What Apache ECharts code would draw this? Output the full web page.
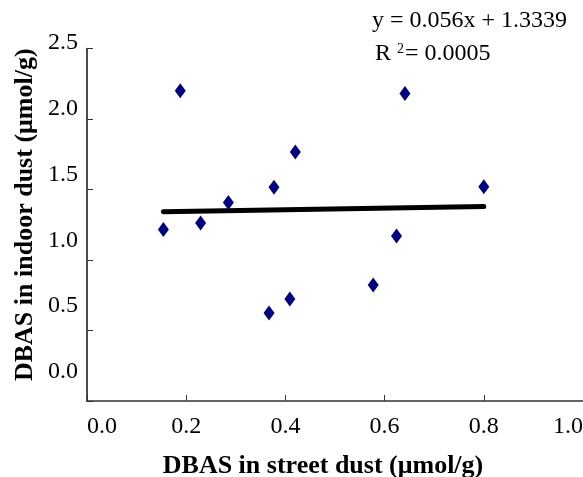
<!DOCTYPE html>
<html>
<head>
<meta charset="utf-8">
<script src="https://cdn.jsdelivr.net/npm/echarts@6/dist/echarts.min.js"></script>
<style>
  html, body { margin: 0; padding: 0; background: #fff; }
  #chart { width: 583px; height: 477px; }
</style>
</head>
<body>
<div id="chart"></div>
<script>
// DBAS concentrations (µmol/g) per sampling site
const streetDust = [0.154, 0.188, 0.229, 0.285, 0.377, 0.420, 0.367, 0.409, 0.577, 0.641, 0.624, 0.800];
const indoorDust = [1.216, 2.201, 1.262, 1.408, 1.516, 1.766, 0.624, 0.723, 0.823, 2.181, 1.170, 1.520];

// Linear fit reported for the data
const slope = 0.056;
const intercept = 1.3339;
const rSquared = '0.0005';

// Axis tick values
const xTicks = [0.0, 0.2, 0.4, 0.6, 0.8, 1.0];
const yTicks = [0.0, 0.5, 1.0, 1.5, 2.0, 2.5];

const FONT = "'Liberation Serif', 'Times New Roman', serif";

const points = streetDust.map((x, i) => [x, indoorDust[i]]);
const xMin = Math.min(...streetDust);
const xMax = Math.max(...streetDust);
const fitLine = [[xMin, slope * xMin + intercept], [xMax, slope * xMax + intercept]];

const chart = echarts.init(document.getElementById('chart'), null, { renderer: 'canvas' });

chart.setOption({
  animation: false,
  backgroundColor: '#fff',
  grid: [
    // plotting area
    { left: 87, right: 0, top: 48.5, bottom: 76, containLabel: false, outerBoundsMode: 'none' },
    // frame that carries the y tick labels
    { left: 87, right: 0, top: 43, bottom: 105, containLabel: false, outerBoundsMode: 'none' }
  ],
  xAxis: [
    {
      type: 'value', gridIndex: 0,
      min: xTicks[0], max: xTicks[xTicks.length - 1], interval: 0.2,
      name: 'DBAS in street dust (\u03bcmol/g)',
      nameLocation: 'middle', nameGap: 52,
      nameTextStyle: { fontFamily: FONT, fontWeight: 'bold', fontSize: 26, color: '#000', padding: [0, 24, 0, 0] },
      axisLine: { show: true, onZero: false, lineStyle: { color: '#333', width: 1.5 } },
      axisTick: { show: true, inside: true, length: 6, lineStyle: { color: '#333', width: 1 } },
      splitLine: { show: false },
      axisLabel: {
        show: true, margin: 14, fontFamily: FONT, fontSize: 24, color: '#000',
        alignMinLabel: 'left', alignMaxLabel: 'right',
        formatter: v => v.toFixed(1)
      }
    },
    { type: 'value', gridIndex: 1, min: 0, max: 1, show: false }
  ],
  yAxis: [
    {
      type: 'value', gridIndex: 0,
      min: yTicks[0], max: yTicks[yTicks.length - 1], interval: 0.5,
      name: 'DBAS in indoor dust (\u03bcmol/g)',
      nameLocation: 'middle', nameGap: 49,
      nameTextStyle: { fontFamily: FONT, fontWeight: 'bold', fontSize: 26, color: '#000', padding: [0, 0, 0, 20] },
      axisLine: { show: true, onZero: false, lineStyle: { color: '#111', width: 1.5 } },
      axisTick: { show: true, inside: true, length: 6, lineStyle: { color: '#333', width: 1 } },
      splitLine: { show: false },
      axisLabel: { show: false }
    },
    {
      type: 'value', gridIndex: 1,
      min: yTicks[0], max: yTicks[yTicks.length - 1], interval: 0.5,
      axisLine: { show: false }, axisTick: { show: false }, splitLine: { show: false },
      axisLabel: {
        show: true, margin: 9, fontFamily: FONT, fontSize: 24, color: '#000',
        formatter: v => v.toFixed(1)
      }
    }
  ],
  series: [
    {
      type: 'line', xAxisIndex: 0, yAxisIndex: 0,
      data: fitLine, symbol: 'none', silent: true,
      lineStyle: { color: '#000', width: 5, cap: 'round' },
      z: 2
    },
    {
      type: 'scatter', xAxisIndex: 0, yAxisIndex: 0,
      data: points, symbol: 'diamond', symbolSize: [11, 15],
      itemStyle: { color: '#000080', opacity: 1 },
      z: 3
    }
  ],
  graphic: [
    {
      type: 'text', left: 372, top: 9,
      style: { text: 'y = ' + slope.toFixed(3) + 'x + ' + intercept.toFixed(4), font: '24px ' + FONT, fill: '#000' }
    },
    {
      type: 'text', left: 375, top: 42,
      style: {
        text: '{r|R }{s|2}{r|= ' + rSquared + '}',
        rich: {
          r: { font: '24px ' + FONT, fill: '#000', verticalAlign: 'bottom' },
          s: { font: '14px ' + FONT, fill: '#000', verticalAlign: 'top', padding: [0, 1, 10, 0] }
        }
      }
    }
  ]
});
</script>
</body>
</html>
